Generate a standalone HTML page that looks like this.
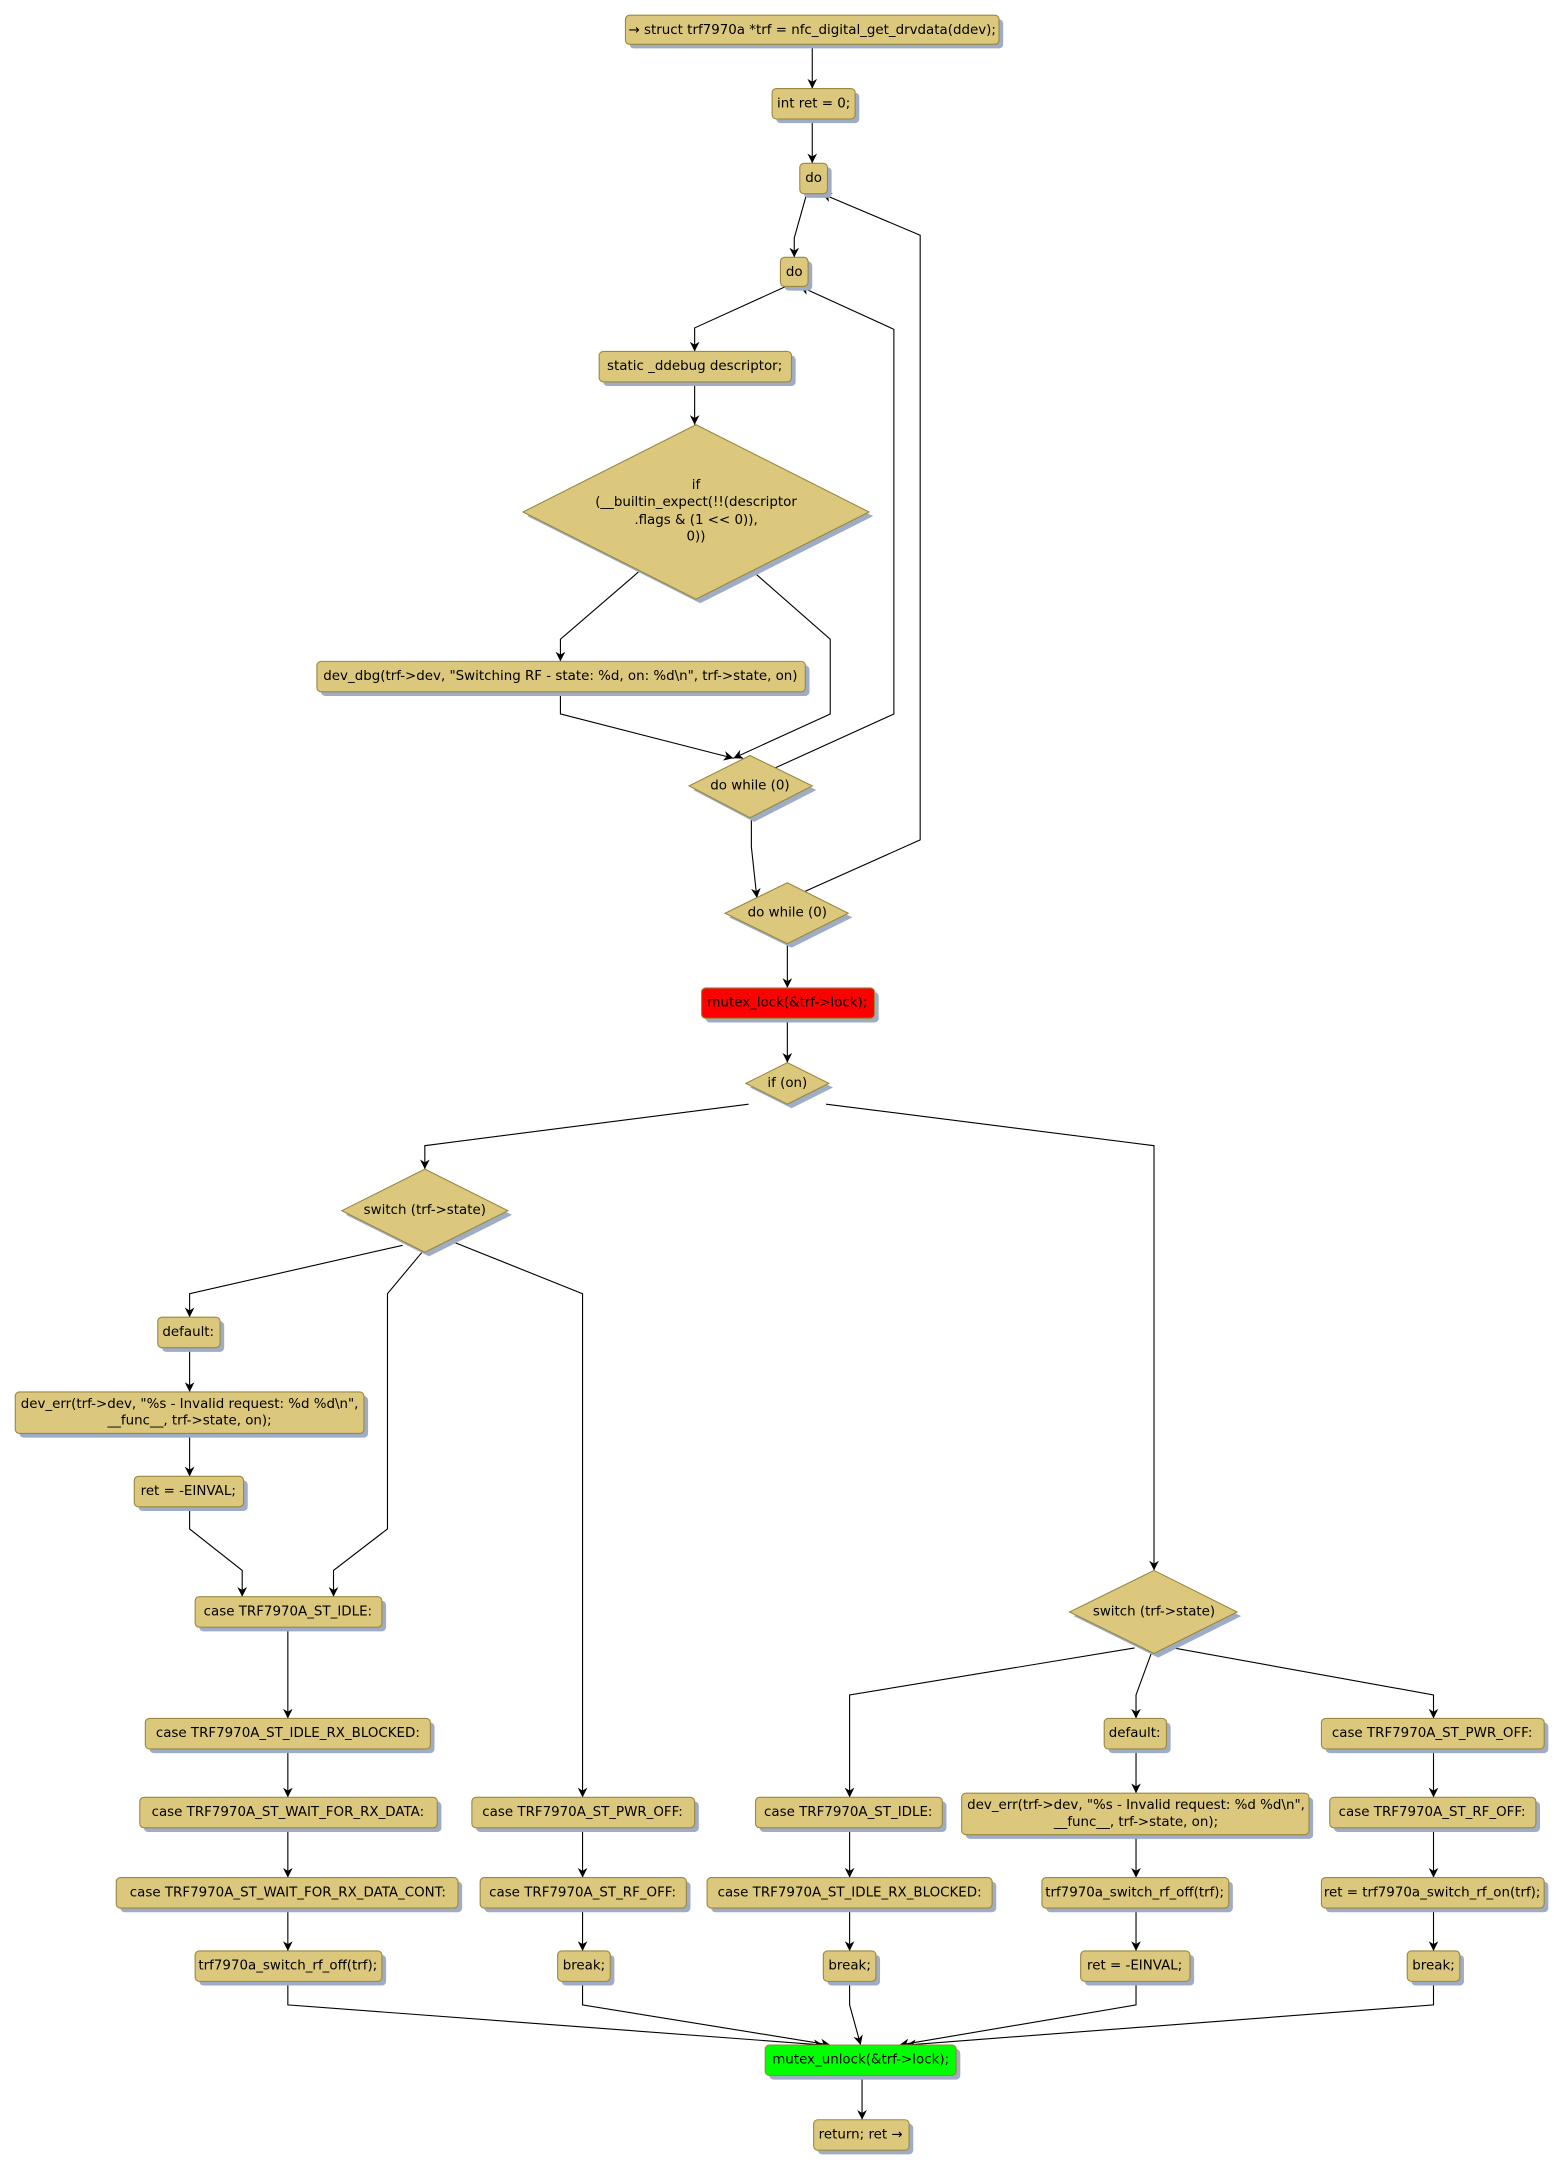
<!DOCTYPE html>
<html><head><meta charset="utf-8"><style>
html,body{margin:0;padding:0;background:#fff}
svg{display:block}
text{font-family:"DejaVu Sans","Liberation Sans",sans-serif;font-size:9.7px;fill:#000;text-anchor:middle;dominant-baseline:central}
.b{fill:#dcc87c;stroke:#9a8840;stroke-width:0.8}
.s{fill:#9eacc6}
.e{fill:none;stroke:#000;stroke-width:0.8;marker-end:url(#a)}
</style></head><body>
<svg width="1565" height="2169" viewBox="0 0 1131 1567.6" xmlns="http://www.w3.org/2000/svg">
<defs><marker id="a" viewBox="0 0 10 10" refX="10" refY="5" markerWidth="7" markerHeight="7" markerUnits="userSpaceOnUse" orient="auto"><path d="M0,0 L10,5 L0,10 L3,5 Z" fill="#000"/></marker></defs>

<path class="e" d="M587,32 V64"/>
<path class="e" d="M587,86 V118"/>
<path class="e" d="M583,140 L574,172 V186"/>
<path class="e" d="M568,207 L502,237 V254"/>
<path class="e" d="M502,276 V307"/>
<path class="e" d="M463,412 L405,462 V478"/>
<path class="e" d="M543,412 L600,462 V516 L530,548"/>
<path class="e" d="M405,500 V516 L530,548"/>
<path class="e" d="M558,556 L646,516 V238 L578,207"/>
<path class="e" d="M543,591 V612 L547,649"/>
<path class="e" d="M580,645 L665,607 V170 L594,140"/>
<path class="e" d="M569,682 V714"/>
<path class="e" d="M569,736 V768"/>
<path class="e" d="M541,798 L307,828 V845"/>
<path class="e" d="M597,798 L834,828 V1135"/>
<path class="e" d="M291,900 L137,935 V952"/>
<path class="e" d="M305,905 L280,935 V1105 L241,1135 V1154"/>
<path class="e" d="M326,897 L421,935 V1299"/>
<path class="e" d="M137,974 V1006"/>
<path class="e" d="M137,1036 V1067"/>
<path class="e" d="M137,1089 V1105 L175,1135 V1154"/>
<path class="e" d="M208,1176 V1242"/>
<path class="e" d="M208,1264 V1299"/>
<path class="e" d="M208,1321 V1357"/>
<path class="e" d="M208,1379 V1410"/>
<path class="e" d="M421,1321 V1357"/>
<path class="e" d="M421,1379 V1410"/>
<path class="e" d="M820,1191 L614,1225 V1299"/>
<path class="e" d="M832,1195 L821,1225 V1242"/>
<path class="e" d="M848,1191 L1036,1225 V1242"/>
<path class="e" d="M614,1321 V1357"/>
<path class="e" d="M614,1379 V1410"/>
<path class="e" d="M821,1264 V1296"/>
<path class="e" d="M821,1326 V1357"/>
<path class="e" d="M821,1379 V1410"/>
<path class="e" d="M1036,1264 V1299"/>
<path class="e" d="M1036,1321 V1357"/>
<path class="e" d="M1036,1379 V1410"/>
<path class="e" d="M208,1432 V1449 L595,1478"/>
<path class="e" d="M421,1432 V1449 L600,1478"/>
<path class="e" d="M614,1432 V1449 L622,1478"/>
<path class="e" d="M821,1432 V1449 L650,1478"/>
<path class="e" d="M1036,1432 V1449 L655,1478"/>
<path class="e" d="M623,1500 V1532"/>

<g id="boxes">
<rect class="s" x="455" y="14" width="270" height="21" rx="3"/><rect class="b" x="452" y="11" width="270" height="21" rx="3"/><text x="587" y="22">→ struct trf7970a *trf = nfc_digital_get_drvdata(ddev);</text>
<rect class="s" x="561" y="67" width="60" height="22" rx="3"/><rect class="b" x="558" y="64" width="60" height="22" rx="3"/><text x="588" y="75">int ret = 0;</text>
<rect class="s" x="581" y="121" width="20" height="22" rx="3"/><rect class="b" x="578" y="118" width="20" height="22" rx="3"/><text x="588" y="129">do</text>
<rect class="s" x="567" y="189" width="20" height="21" rx="3"/><rect class="b" x="564" y="186" width="20" height="21" rx="3"/><text x="574" y="197">do</text>
<rect class="s" x="436" y="257" width="139" height="22" rx="3"/><rect class="b" x="433" y="254" width="139" height="22" rx="3"/><text x="502" y="265">static _ddebug descriptor;</text>
<polygon class="s" points="506,310 631,373 506,436 381,373"/><polygon class="b" points="503,307 628,370 503,433 378,370"/>
<text x="503" y="351">if</text><text x="503" y="363">(__builtin_expect(!!(descriptor</text><text x="503" y="376">.flags &amp; (1 &lt;&lt; 0)),</text><text x="503" y="388">0))</text>
<rect class="s" x="232" y="481" width="353" height="22" rx="3"/><rect class="b" x="229" y="478" width="353" height="22" rx="3"/><text x="405" y="489">dev_dbg(trf-&gt;dev, "Switching RF - state: %d, on: %d\n", trf-&gt;state, on)</text>
<polygon class="s" points="545,549 590,571 545,594 501,571"/><polygon class="b" points="542,546 587,568 542,591 498,568"/><text x="542" y="568">do while (0)</text>
<polygon class="s" points="572,641 616,663 572,685 527,663"/><polygon class="b" points="569,638 613,660 569,682 524,660"/><text x="569" y="660">do while (0)</text>
<rect class="s" x="510" y="717" width="125" height="22" rx="3"/><rect x="507" y="714" width="125" height="22" rx="3" fill="#ff0000" stroke="#9a8840" stroke-width="0.8"/><text x="569" y="725">mutex_lock(&amp;trf-&gt;lock);</text>
<polygon class="s" points="572,771 602,786 572,801 542,786"/><polygon class="b" points="569,768 599,783 569,798 539,783"/><text x="569" y="783">if (on)</text>
<polygon class="s" points="310,848 370,878 310,908 250,878"/><polygon class="b" points="307,845 367,875 307,905 247,875"/><text x="307" y="875">switch (trf-&gt;state)</text>
<rect class="s" x="117" y="955" width="45" height="22" rx="3"/><rect class="b" x="114" y="952" width="45" height="22" rx="3"/><text x="136" y="963">default:</text>
<rect class="s" x="14" y="1009" width="252" height="30" rx="3"/><rect class="b" x="11" y="1006" width="252" height="30" rx="3"/><text x="137" y="1015">dev_err(trf-&gt;dev, "%s - Invalid request: %d %d\n",</text><text x="137" y="1027">__func__, trf-&gt;state, on);</text>
<rect class="s" x="100" y="1070" width="79" height="22" rx="3"/><rect class="b" x="97" y="1067" width="79" height="22" rx="3"/><text x="136" y="1078">ret = -EINVAL;</text>
<rect class="s" x="144" y="1157" width="135" height="22" rx="3"/><rect class="b" x="141" y="1154" width="135" height="22" rx="3"/><text x="208" y="1165">case TRF7970A_ST_IDLE:</text>
<rect class="s" x="108" y="1245" width="206" height="22" rx="3"/><rect class="b" x="105" y="1242" width="206" height="22" rx="3"/><text x="208" y="1253">case TRF7970A_ST_IDLE_RX_BLOCKED:</text>
<rect class="s" x="104" y="1302" width="215" height="22" rx="3"/><rect class="b" x="101" y="1299" width="215" height="22" rx="3"/><text x="208" y="1310">case TRF7970A_ST_WAIT_FOR_RX_DATA:</text>
<rect class="s" x="87" y="1360" width="247" height="22" rx="3"/><rect class="b" x="84" y="1357" width="247" height="22" rx="3"/><text x="208" y="1368">case TRF7970A_ST_WAIT_FOR_RX_DATA_CONT:</text>
<rect class="s" x="144" y="1413" width="135" height="22" rx="3"/><rect class="b" x="141" y="1410" width="135" height="22" rx="3"/><text x="208" y="1421">trf7970a_switch_rf_off(trf);</text>
<rect class="s" x="344" y="1302" width="161" height="22" rx="3"/><rect class="b" x="341" y="1299" width="161" height="22" rx="3"/><text x="421" y="1310">case TRF7970A_ST_PWR_OFF:</text>
<rect class="s" x="350" y="1360" width="149" height="22" rx="3"/><rect class="b" x="347" y="1357" width="149" height="22" rx="3"/><text x="421" y="1368">case TRF7970A_ST_RF_OFF:</text>
<rect class="s" x="406" y="1413" width="38" height="22" rx="3"/><rect class="b" x="403" y="1410" width="38" height="22" rx="3"/><text x="422" y="1421">break;</text>
<polygon class="s" points="837,1138 897,1168 837,1198 776,1168"/><polygon class="b" points="834,1135 894,1165 834,1195 773,1165"/><text x="834" y="1165">switch (trf-&gt;state)</text>
<rect class="s" x="549" y="1302" width="135" height="22" rx="3"/><rect class="b" x="546" y="1299" width="135" height="22" rx="3"/><text x="613" y="1310">case TRF7970A_ST_IDLE:</text>
<rect class="s" x="514" y="1360" width="206" height="22" rx="3"/><rect class="b" x="511" y="1357" width="206" height="22" rx="3"/><text x="614" y="1368">case TRF7970A_ST_IDLE_RX_BLOCKED:</text>
<rect class="s" x="598" y="1413" width="38" height="22" rx="3"/><rect class="b" x="595" y="1410" width="38" height="22" rx="3"/><text x="614" y="1421">break;</text>
<rect class="s" x="801" y="1245" width="45" height="22" rx="3"/><rect class="b" x="798" y="1242" width="45" height="22" rx="3"/><text x="820" y="1253">default:</text>
<rect class="s" x="698" y="1299" width="251" height="30" rx="3"/><rect class="b" x="695" y="1296" width="251" height="30" rx="3"/><text x="821" y="1305">dev_err(trf-&gt;dev, "%s - Invalid request: %d %d\n",</text><text x="821" y="1317">__func__, trf-&gt;state, on);</text>
<rect class="s" x="756" y="1360" width="135" height="22" rx="3"/><rect class="b" x="753" y="1357" width="135" height="22" rx="3"/><text x="820" y="1368">trf7970a_switch_rf_off(trf);</text>
<rect class="s" x="784" y="1413" width="79" height="22" rx="3"/><rect class="b" x="781" y="1410" width="79" height="22" rx="3"/><text x="820" y="1421">ret = -EINVAL;</text>
<rect class="s" x="958" y="1245" width="161" height="22" rx="3"/><rect class="b" x="955" y="1242" width="161" height="22" rx="3"/><text x="1035" y="1253">case TRF7970A_ST_PWR_OFF:</text>
<rect class="s" x="964" y="1302" width="149" height="22" rx="3"/><rect class="b" x="961" y="1299" width="149" height="22" rx="3"/><text x="1035" y="1310">case TRF7970A_ST_RF_OFF:</text>
<rect class="s" x="958" y="1360" width="161" height="22" rx="3"/><rect class="b" x="955" y="1357" width="161" height="22" rx="3"/><text x="1035" y="1368">ret = trf7970a_switch_rf_on(trf);</text>
<rect class="s" x="1020" y="1413" width="38" height="22" rx="3"/><rect class="b" x="1017" y="1410" width="38" height="22" rx="3"/><text x="1036" y="1421">break;</text>
<rect class="s" x="556" y="1481" width="138" height="22" rx="3"/><rect x="553" y="1478" width="138" height="22" rx="3" fill="#00ff00" stroke="#9a8840" stroke-width="0.8"/><text x="622" y="1489">mutex_unlock(&amp;trf-&gt;lock);</text>
<rect class="s" x="591" y="1535" width="69" height="22" rx="3"/><rect class="b" x="588" y="1532" width="69" height="22" rx="3"/><text x="622" y="1543">return; ret →</text>
</g>
</svg>
</body></html>
